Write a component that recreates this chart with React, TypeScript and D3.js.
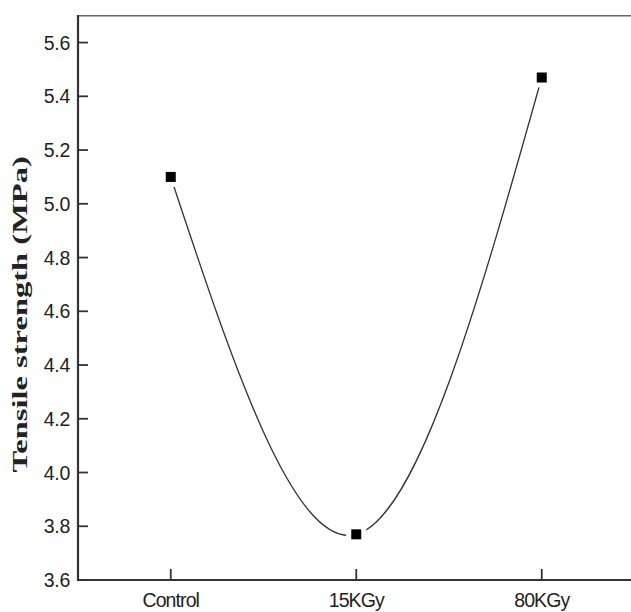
import React from "react";
import * as d3 from "d3";

const categories = ["Control", "15KGy", "80KGy"];
const values = [5.1, 3.77, 5.47];
const yTicks = [3.6, 3.8, 4.0, 4.2, 4.4, 4.6, 4.8, 5.0, 5.2, 5.4, 5.6];
const yTitle = "Tensile strength (MPa)";

const W = 631;
const H = 612;
const left = 78;
const right = 634.5;
const top = 15.7;
const bottom = 580;

export default function App() {
  const x = d3.scaleLinear().domain([0, 3]).range([left, right]);
  const y = d3.scaleLinear().domain([3.6, 5.7]).range([bottom, top]);
  const pts: [number, number][] = values.map((v, i) => [x(i + 0.5), y(v)]);
  const line = d3.line().curve(d3.curveNatural)(pts) || "";
  const ms = 10;
  const gap = 10;
  return (
    <svg
      width={W}
      height={H}
      style={{ position: "absolute", left: 0, top: 0, background: "#fff" }}
      fontFamily="'Liberation Sans', Arial, sans-serif"
    >
      <path d={line} fill="none" stroke="#333" strokeWidth={1.3} />
      {pts.map((p, i) => (
        <rect key={"g" + i} x={p[0] - gap} y={p[1] - gap} width={gap * 2} height={gap * 2} fill="#fff" />
      ))}
      {pts.map((p, i) => (
        <rect key={"m" + i} x={p[0] - ms / 2} y={p[1] - ms / 2} width={ms} height={ms} fill="#000" />
      ))}
      <line x1={left} x2={W} y1={top} y2={top} stroke="#666" strokeWidth={1.5} />
      <line x1={left} x2={left} y1={top - 0.7} y2={bottom + 1} stroke="#333" strokeWidth={2.2} />
      <line x1={left - 1} x2={W} y1={bottom} y2={bottom} stroke="#333" strokeWidth={2.2} />
      {yTicks.map((t) => (
        <g key={t}>
          <line x1={left} x2={left + 10} y1={y(t)} y2={y(t)} stroke="#333" strokeWidth={1.8} />
          <text x={70} y={y(t)} dy="0.36em" textAnchor="end" fontSize={19.5} fill="#222" letterSpacing={-0.3}>
            {t.toFixed(1)}
          </text>
        </g>
      ))}
      {categories.map((c, i) => (
        <g key={c}>
          <line x1={x(i + 0.5)} x2={x(i + 0.5)} y1={bottom} y2={bottom - 11} stroke="#333" strokeWidth={1.8} />
          <text x={x(i + 0.5)} y={606.5} textAnchor="middle" fontSize={19.5} fill="#222" letterSpacing={-0.9}>
            {c}
          </text>
        </g>
      ))}
      <text
        transform={`translate(27,314.3) rotate(-90) scale(1.48,1)`}
        textAnchor="middle"
        fontFamily="'Liberation Serif', 'Times New Roman', serif"
        fontWeight="bold"
        fontSize={22}
        fill="#222"
      >
        {yTitle}
      </text>
    </svg>
  );
}
